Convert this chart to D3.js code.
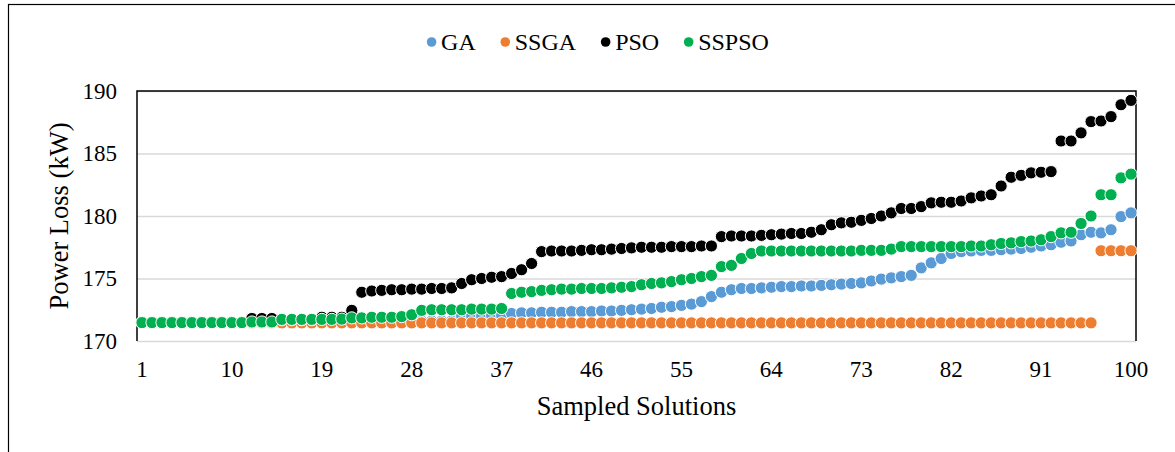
<!DOCTYPE html>
<html>
<head>
<meta charset="utf-8">
<script src="https://cdn.jsdelivr.net/npm/d3@7"></script>
<style>
body{margin:0;background:#fff;}
text{font-family:"Liberation Serif","Times New Roman",serif;fill:#000;}
</style>
</head>
<body>
<script>
var width = 1175;
var height = 452;

var solutions = d3.range(1, 101);
var xTicks = [1, 10, 19, 28, 37, 46, 55, 64, 73, 82, 91, 100];
var yTicks = [170, 175, 180, 185, 190];

var seriesNames = ["GA", "SSGA", "PSO", "SSPSO"];
var seriesColors = ["#5B9BD5", "#ED7D31", "#000000", "#00B050"];

var ga = [
  171.5, 171.5, 171.5, 171.5, 171.5, 171.5, 171.5, 171.5, 171.5, 171.5,
  171.5, 171.55, 171.55, 171.55, 171.6, 171.6, 171.6, 171.6, 171.6, 171.6,
  171.6, 171.6, 171.6, 171.6, 171.6, 171.6, 171.6, 171.6, 171.6, 171.6,
  171.6, 171.6, 172.0, 172.0, 172.0, 172.05, 172.05, 172.2, 172.25, 172.25,
  172.3, 172.3, 172.3, 172.35, 172.35, 172.35, 172.4, 172.4, 172.45, 172.5,
  172.55, 172.6, 172.7, 172.75, 172.85, 172.95, 173.15, 173.55, 173.9, 174.1,
  174.2, 174.2, 174.25, 174.3, 174.35, 174.35, 174.4, 174.4, 174.45, 174.5,
  174.55, 174.6, 174.65, 174.8, 174.95, 175.05, 175.15, 175.25, 175.85, 176.25,
  176.6, 177.0, 177.15, 177.2, 177.25, 177.25, 177.3, 177.35, 177.4, 177.5,
  177.6, 177.7, 177.9, 178.0, 178.5, 178.7, 178.65, 178.9, 179.95, 180.25
];

var ssga = [
  171.45, 171.45, 171.45, 171.45, 171.45, 171.45, 171.45, 171.45, 171.45, 171.45,
  171.45, 171.45, 171.45, 171.45, 171.45, 171.45, 171.45, 171.45, 171.45, 171.45,
  171.45, 171.45, 171.45, 171.45, 171.45, 171.45, 171.45, 171.45, 171.45, 171.45,
  171.45, 171.45, 171.45, 171.45, 171.45, 171.45, 171.45, 171.45, 171.45, 171.45,
  171.45, 171.45, 171.45, 171.45, 171.45, 171.45, 171.45, 171.45, 171.45, 171.45,
  171.45, 171.45, 171.45, 171.45, 171.45, 171.45, 171.45, 171.45, 171.45, 171.45,
  171.45, 171.45, 171.45, 171.45, 171.45, 171.45, 171.45, 171.45, 171.45, 171.45,
  171.45, 171.45, 171.45, 171.45, 171.45, 171.45, 171.45, 171.45, 171.45, 171.45,
  171.45, 171.45, 171.45, 171.45, 171.45, 171.45, 171.45, 171.45, 171.45, 171.45,
  171.45, 171.45, 171.45, 171.45, 171.45, 171.45, 177.22, 177.22, 177.22, 177.22
];

var pso = [
  171.5, 171.5, 171.5, 171.5, 171.5, 171.5, 171.5, 171.5, 171.5, 171.5,
  171.5, 171.8, 171.8, 171.8, 171.7, 171.7, 171.7, 171.7, 171.9, 171.9,
  171.9, 172.45, 173.9, 174.0, 174.05, 174.1, 174.1, 174.15, 174.15, 174.2,
  174.2, 174.25, 174.6, 174.9, 175.0, 175.1, 175.15, 175.4, 175.7, 176.2,
  177.15, 177.2, 177.2, 177.2, 177.25, 177.3, 177.3, 177.35, 177.4, 177.45,
  177.5, 177.5, 177.5, 177.55, 177.55, 177.55, 177.6, 177.6, 178.35, 178.4,
  178.4, 178.4, 178.45, 178.5, 178.55, 178.6, 178.6, 178.7, 178.9, 179.3,
  179.45, 179.5, 179.65, 179.8, 180.0, 180.25, 180.6, 180.6, 180.75, 181.05,
  181.1, 181.1, 181.2, 181.45, 181.6, 181.7, 182.4, 183.1, 183.25, 183.45,
  183.5, 183.55, 186.0, 186.0, 186.65, 187.55, 187.6, 187.95, 188.9, 189.25
];

var sspso = [
  171.47, 171.47, 171.47, 171.47, 171.47, 171.47, 171.47, 171.47, 171.47, 171.47,
  171.47, 171.52, 171.52, 171.52, 171.73, 171.73, 171.73, 171.73, 171.73, 171.73,
  171.75, 171.85, 171.85, 171.9, 171.9, 171.9, 171.95, 172.1, 172.45, 172.5,
  172.5, 172.5, 172.5, 172.55, 172.55, 172.55, 172.6, 173.8, 173.9, 173.95,
  174.05, 174.1, 174.15, 174.15, 174.2, 174.2, 174.2, 174.25, 174.3, 174.35,
  174.5, 174.6, 174.65, 174.75, 174.9, 175.0, 175.15, 175.25, 175.95, 176.05,
  176.6, 177.0, 177.2, 177.2, 177.2, 177.2, 177.2, 177.2, 177.2, 177.2,
  177.2, 177.2, 177.25, 177.25, 177.25, 177.35, 177.55, 177.55, 177.55, 177.55,
  177.55, 177.55, 177.55, 177.6, 177.6, 177.7, 177.8, 177.85, 177.95, 178.0,
  178.1, 178.35, 178.65, 178.7, 179.4, 180.0, 181.7, 181.7, 183.05, 183.35
];

var seriesValues = [ga, ssga, pso, sspso];

var plot = {left: 137, right: 1136, top: 91, bottom: 341};
var serif = "'Liberation Serif', 'Times New Roman', serif";

var svg = d3.select("body")
  .append("svg")
  .attr("width", width)
  .attr("height", height)
  .attr("font-family", serif);

// chart frame (runs off the right and bottom edges)
svg.append("rect")
  .attr("x", 8.5).attr("y", 4.5)
  .attr("width", 1200).attr("height", 500)
  .attr("fill", "none").attr("stroke", "#000").attr("stroke-width", 1.2);

var xScale = d3.scaleBand()
  .domain(solutions)
  .range([plot.left, plot.right]);

var yScale = d3.scaleLinear()
  .domain([170, 190])
  .range([plot.bottom, plot.top]);

// gridlines + y labels
var yAxis = d3.axisLeft(yScale)
  .tickValues(yTicks)
  .tickSize(-(plot.right - plot.left))
  .tickPadding(20);

var gy = svg.append("g")
  .attr("transform", "translate(" + plot.left + ",0)")
  .call(yAxis)
  .attr("font-family", serif)
  .attr("font-size", 23);
gy.select(".domain").remove();
gy.selectAll("line").attr("stroke", "#d9d9d9").attr("stroke-width", 1.5);
gy.selectAll("text").attr("fill", "#000");

// plot area outline: black left/top/right
svg.append("path")
  .attr("d", "M" + plot.left + "," + plot.bottom + "V" + plot.top + "H" + plot.right + "V" + plot.bottom)
  .attr("fill", "none").attr("stroke", "#000").attr("stroke-width", 1.5);

var xAxis = d3.axisBottom(xScale)
  .tickValues(xTicks)
  .tickSize(0)
  .tickPadding(20);

var gx = svg.append("g")
  .attr("transform", "translate(0," + plot.bottom + ")")
  .call(xAxis)
  .attr("font-family", serif)
  .attr("font-size", 23);
gx.select(".domain").remove();
gx.selectAll("text").attr("fill", "#000");

// series markers
seriesValues.forEach(function(vals, s) {
  svg.append("g")
    .selectAll("circle")
    .data(vals)
    .enter()
    .append("circle")
    .attr("cx", function(d, i) { return xScale(solutions[i]) + xScale.bandwidth() / 2; })
    .attr("cy", function(d) { return yScale(d); })
    .attr("r", 6.1)
    .attr("fill", seriesColors[s])
    .attr("stroke", "#fff")
    .attr("stroke-width", 1);
});

// axis titles
svg.append("text")
  .attr("transform", "translate(68," + ((plot.top + plot.bottom) / 2) + ") rotate(-90)")
  .attr("text-anchor", "middle")
  .attr("font-size", 26.5)
  .text("Power Loss (kW)");

svg.append("text")
  .attr("x", (plot.left + plot.right) / 2)
  .attr("y", 415)
  .attr("text-anchor", "middle")
  .attr("font-size", 26.5)
  .text("Sampled Solutions");

// legend
var legend = svg.append("g");
var lx = 0;
seriesNames.forEach(function(name, i) {
  var item = legend.append("g").attr("transform", "translate(" + lx + ",0)");
  item.append("circle")
    .attr("cx", 4.5).attr("cy", 42).attr("r", 4.8)
    .attr("fill", seriesColors[i]);
  var t = item.append("text")
    .attr("x", 14).attr("y", 50)
    .attr("font-size", 24)
    .text(name);
  lx += 14 + t.node().getComputedTextLength() + 25;
});
var legendWidth = lx - 25;
legend.attr("transform", "translate(" + (598 - legendWidth / 2) + ",0)");
</script>
</body>
</html>
